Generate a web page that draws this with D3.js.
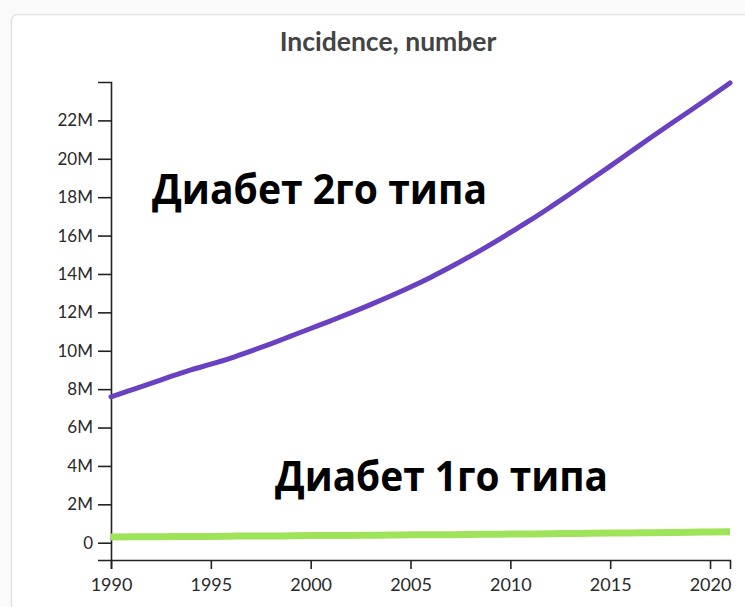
<!DOCTYPE html>
<html><head><meta charset="utf-8">
<script src="https://cdn.jsdelivr.net/npm/d3@7"></script>
<style>
html,body{margin:0;padding:0;background:#fafafa;}
svg{display:block;}
</style></head>
<body>
<svg id="chart" width="745" height="607"></svg>
<script>
// ---- data ----
const years = [1990,1991,1992,1993,1994,1995,1996,1997,1998,1999,2000,2001,2002,2003,2004,2005,2006,2007,2008,2009,2010,2011,2012,2013,2014,2015,2016,2017,2018,2019,2020,2021];
const type2 = [7.6,7.95,8.3,8.66,9.0,9.3,9.62,9.98,10.36,10.76,11.16,11.56,11.97,12.4,12.85,13.32,13.82,14.36,14.93,15.53,16.16,16.8,17.48,18.18,18.9,19.62,20.35,21.08,21.8,22.5,23.22,23.95];
const type1 = [0.30,0.31,0.31,0.32,0.33,0.33,0.34,0.35,0.35,0.36,0.37,0.38,0.38,0.39,0.40,0.41,0.42,0.42,0.43,0.44,0.45,0.46,0.47,0.48,0.49,0.50,0.51,0.52,0.53,0.54,0.56,0.57];
const yTicks = [0,2,4,6,8,10,12,14,16,18,20,22];
const xTicks = [1990,1995,2000,2005,2010,2015,2020];
const title = "Incidence, number";
const label2 = "Диабет 2го типа";
const label1 = "Диабет 1го типа";

const svg = d3.select("#chart");

// card
svg.append("rect").attr("x",11.5).attr("y",14.5).attr("width",760).attr("height",620)
  .attr("rx",6).attr("fill","#fff").attr("stroke","#e2e2e2").attr("stroke-width",1.5);

svg.append("text").attr("x",388).attr("y",51).attr("text-anchor","middle")
  .attr("font-family","Lato, 'Open Sans', sans-serif").attr("font-size",26.5).attr("font-weight",700)
  .attr("fill","#444").text(title);

const x = d3.scaleLinear().domain([1990,2021]).range([111,730]);
const y = d3.scaleLinear().domain([-0.9,24]).range([560,82]);

const fmt = v => v === 0 ? "0" : v + "M";

const yAxis = svg.append("g").attr("transform","translate(111,0)")
  .call(d3.axisLeft(y).tickValues(yTicks).tickFormat(fmt).tickSize(13).tickPadding(5));
const xAxis = svg.append("g").attr("transform","translate(0,560)")
  .call(d3.axisBottom(x).tickValues(xTicks).tickFormat(d3.format("d")).tickSize(9).tickPadding(9));

[yAxis,xAxis].forEach(a=>{
  a.selectAll("path,line").attr("stroke","#222").attr("stroke-width",1.6);
  a.selectAll("text").attr("font-family","Lato, 'Open Sans', sans-serif").attr("fill","#2a2a2a");
});
yAxis.selectAll("text").attr("font-size",17);
xAxis.selectAll("text").attr("font-size",18);

const line = d3.line().x((d,i)=>x(years[i])).y(d=>y(d)).curve(d3.curveMonotoneX);

svg.append("path").datum(type1).attr("d",line).attr("fill","none")
  .attr("stroke","#9fe35a").attr("stroke-width",7).attr("stroke-linecap","butt");
svg.append("path").datum(type2).attr("d",line).attr("fill","none")
  .attr("stroke","#6a41c0").attr("stroke-width",5).attr("stroke-linecap","round");

svg.append("text").attr("x",152).attr("y",204)
  .attr("font-family","'Open Sans', 'Noto Sans', sans-serif").attr("font-weight",700).attr("font-size",41)
  .attr("textLength",335).attr("lengthAdjust","spacingAndGlyphs").attr("fill","#000").text(label2);
svg.append("text").attr("x",275).attr("y",491)
  .attr("font-family","'Open Sans', 'Noto Sans', sans-serif").attr("font-weight",700).attr("font-size",41)
  .attr("textLength",333).attr("lengthAdjust","spacingAndGlyphs").attr("fill","#000").text(label1);
</script>
</body></html>
